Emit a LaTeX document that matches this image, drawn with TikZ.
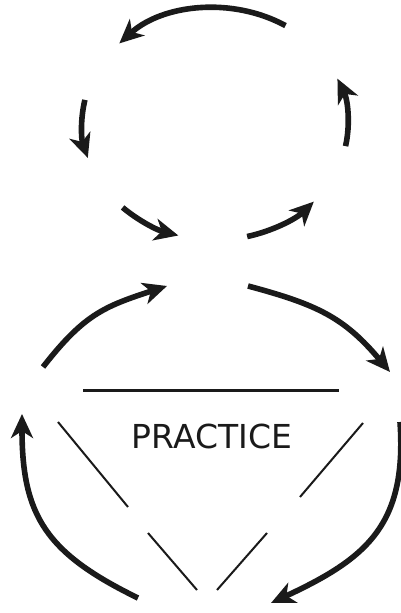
\documentclass[tikz,border=0pt]{standalone}
\usepackage{fontspec}
\setmainfont{DejaVu Sans}
\usetikzlibrary{arrows.meta,positioning,calc}
\definecolor{ink}{HTML}{1A1A1A}
\tikzset{
  cyclearr/.style={-{Stealth[length=24pt,width=22pt,inset=7pt]},line width=5.6pt,
                   draw=ink},
  barline/.style={line width=3pt,draw=ink},
  legline/.style={line width=2pt,draw=ink},
  wordnode/.style={inner sep=0pt,text=ink,font=\fontsize{33}{40}\selectfont}
}

\begin{document}
\begin{tikzpicture}[x=1pt,y=1pt]
    \path[use as bounding box] (0,0) rectangle (401,613);
    % upper cycle
    \coordinate (upc) at (215,489);
    \draw[cyclearr] (upc) ++(58:133 and 116)
      arc[start angle=58,end angle=136,x radius=133,y radius=116];
    \draw[cyclearr] (upc) ++(168:133 and 116)
      arc[start angle=168,end angle=197,x radius=133,y radius=116];
    \draw[cyclearr] (upc) ++(226:133 and 116)
      arc[start angle=226,end angle=254,x radius=133,y radius=116];
    \draw[cyclearr] (upc) ++(284:133 and 116)
      arc[start angle=284,end angle=318,x radius=133,y radius=116];
    \draw[cyclearr] (upc) ++(-11:133 and 116)
      arc[start angle=-11,end angle=23,x radius=133,y radius=116];

    % lower cycle
    \coordinate (lowa) at (43,246);
    \coordinate (lowb) at (167,327);
    \coordinate (lowc) at (248,327);
    \coordinate (lowd) at (390,241);
    \coordinate (lowe) at (400,191);
    \coordinate (lowf) at (271,10);
    \coordinate (lowg) at (138,15);
    \coordinate (lowh) at (22,199);
    \draw[cyclearr] (lowa) to[out=52,in=198,looseness=1.15] (lowb);
    \draw[cyclearr] (lowc) to[out=-15,in=130,looseness=1.1] (lowd);
    \draw[cyclearr] (lowe) to[out=-86,in=25,looseness=1.2] (lowf);
    \draw[cyclearr] (lowg) to[out=154,in=-90,looseness=1.2] (lowh);

    % triangle
    \coordinate (barl) at (83,222);
    \coordinate (barr) at (339,222);
    \draw[barline] (barl) -- (barr);
    \node[wordnode] (practice) at (212,177) {PRACTICE};
    \coordinate (lega) at (58,191);
    \coordinate (legb) at (128,106);
    \coordinate (legc) at (148,80);
    \coordinate (legd) at (197,23);
    \coordinate (lege) at (363,190);
    \coordinate (legf) at (300,116);
    \coordinate (legg) at (267,80);
    \coordinate (legh) at (217,23);
    \draw[legline] (lega) -- (legb);
    \draw[legline] (legc) -- (legd);
    \draw[legline] (lege) -- (legf);
    \draw[legline] (legg) -- (legh);
  \end{tikzpicture}
\end{document}
